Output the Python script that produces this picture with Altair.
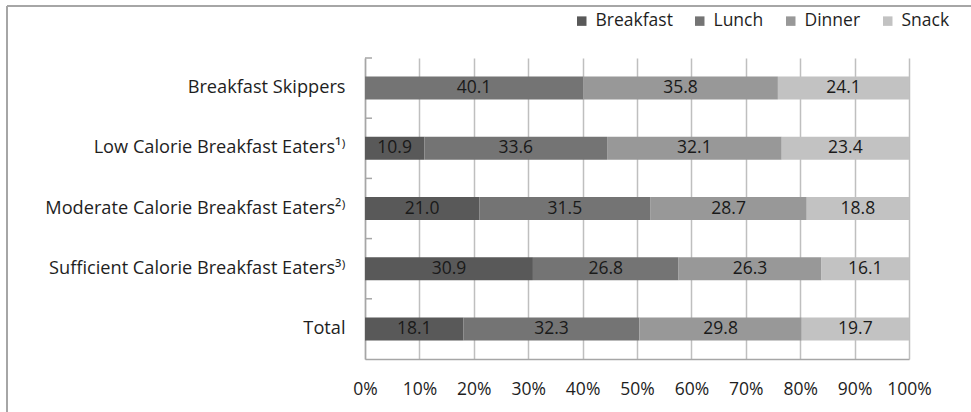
import altair as alt
import pandas as pd

groups = [
    "Breakfast Skippers",
    "Low Calorie Breakfast Eaters¹⁾",
    "Moderate Calorie Breakfast Eaters²⁾",
    "Sufficient Calorie Breakfast Eaters³⁾",
    "Total",
]
meals = ["Breakfast", "Lunch", "Dinner", "Snack"]
breakfast = [0.0, 10.9, 21.0, 30.9, 18.1]
lunch = [40.1, 33.6, 31.5, 26.8, 32.3]
dinner = [35.8, 32.1, 28.7, 26.3, 29.8]
snack = [24.1, 23.4, 18.8, 16.1, 19.7]
colors = ["#595959", "#747474", "#989898", "#c2c2c2"]
x_ticks = [0, 0.1, 0.2, 0.3, 0.4, 0.5, 0.6, 0.7, 0.8, 0.9, 1.0]

FONT = "Open Sans"
FS = 17.5
TEXT = "#1e1e1e"
GRID = "#bfbfbf"

rows = []
for i, g in enumerate(groups):
    for j, (m, vals) in enumerate(zip(meals, [breakfast, lunch, dinner, snack])):
        rows.append({"group": g, "meal": m, "order": j, "value": vals[i]})
df = pd.DataFrame(rows)

yscale = alt.Scale(domain=groups, paddingInner=0, paddingOuter=0)

base = (
    alt.Chart(df)
    .transform_stack(
        stack="value",
        groupby=["group"],
        as_=["x0", "x1"],
        offset="normalize",
        sort=[alt.SortField("order", "ascending")],
    )
    .transform_calculate(mid="(datum.x0 + datum.x1) / 2")
)

bars = base.mark_bar(size=23).encode(
    x=alt.X(
        "x0:Q",
        scale=alt.Scale(domain=[0, 1], nice=False),
        axis=alt.Axis(
            format="%",
            values=x_ticks,
            grid=True,
            gridColor=GRID,
            gridWidth=1.5,
            ticks=False,
            domainColor="#a6a6a6",
            domainWidth=1.5,
            labelPadding=21,
            labelFontSize=FS,
            labelFont=FONT,
            labelColor=TEXT,
            labelFlush=False,
            labelOverlap=False,
            title=None,
        ),
    ),
    x2="x1:Q",
    y=alt.Y(
        "group:N",
        sort=groups,
        scale=yscale,
        axis=alt.Axis(
            ticks=False,
            grid=False,
            domainColor="#a6a6a6",
            domainWidth=1.5,
            labelPadding=20,
            labelFontSize=18.2,
            labelFont=FONT,
            labelColor=TEXT,
            labelLimit=400,
            title=None,
        ),
    ),
    color=alt.Color(
        "meal:N",
        sort=meals,
        scale=alt.Scale(domain=meals, range=colors),
        legend=alt.Legend(
            title=None,
            orient="none",
            direction="horizontal",
            legendX=208,
            legendY=-46,
            symbolType="square",
            symbolSize=90,
            symbolStrokeWidth=0,
            labelFontSize=FS,
            labelFont=FONT,
            labelColor=TEXT,
            labelOffset=5,
            columnPadding=18,
        ),
    ),
    order=alt.Order("order:Q"),
)

labels = (
    base.transform_filter("datum.value > 0")
    .mark_text(fontSize=FS, font=FONT, color="#1a1a1a")
    .encode(
        x=alt.X("mid:Q"),
        y=alt.Y("group:N", sort=groups, scale=yscale),
        text=alt.Text("value:Q", format=".1f"),
    )
)

ticks = (
    alt.Chart(pd.DataFrame({"group": groups}))
    .mark_rule(color="#a6a6a6", strokeWidth=1.5)
    .encode(
        y=alt.Y("group:N", sort=groups, scale=yscale, bandPosition=0),
        x=alt.value(0),
        x2=alt.value(7),
    )
)

frame_df = pd.DataFrame({"k": [0]})
frame_top = alt.Chart(frame_df).mark_rule(color="#a6a6a6", strokeWidth=2).encode(
    x=alt.value(-358), x2=alt.value(700), y=alt.value(-52)
)
frame_left = alt.Chart(frame_df).mark_rule(color="#a6a6a6", strokeWidth=2).encode(
    x=alt.value(-358), y=alt.value(-52), y2=alt.value(400)
)

chart = (
    alt.layer(frame_top, frame_left, bars, labels, ticks)
    .properties(
        width=544,
        height=301,
        autosize=alt.AutoSizeParams(type="none"),
        padding={"left": 365, "top": 58, "right": 62, "bottom": 53},
        background="white",
    )
    .configure_view(stroke=None)
)

chart.save("out.html", embed_options={"renderer": "svg", "actions": False})
